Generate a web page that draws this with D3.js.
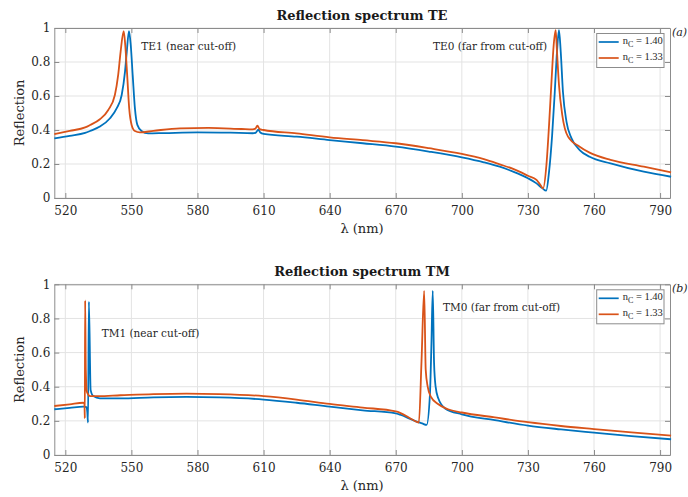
<!DOCTYPE html>
<html><head><meta charset="utf-8">
<script src="https://cdn.jsdelivr.net/npm/d3@7"></script>
<style>body{margin:0;background:#fff}svg{display:block}</style>
</head><body>
<svg id="chart" width="688" height="497"></svg>
<script>
// ---------- data ----------
const xTickValues = [520, 550, 580, 610, 640, 670, 700, 730, 760, 790];
const yTickValues = [0, 0.2, 0.4, 0.6, 0.8, 1];
const yTickLabels = ["0", "0.2", "0.4", "0.6", "0.8", "1"];
const seriesNames = ["n_C = 1.40", "n_C = 1.33"];
const seriesColors = ["#0072BD", "#D95319"];
const panelTitles = ["Reflection spectrum TE", "Reflection spectrum TM"];
const panelTags = ["(a)", "(b)"];

// TE, n_C = 1.40
const teWl140 = [515,522,529,531.2,535.7,540.3,543.3,545.6,547.1,547.9,548.9,549.7,550.6,551.6,552.7,554.6,557.6,565,580,595,605,606.5,607.6,608.5,610,625,640,655,670,685,700,710,717.2,723.3,730,733.9,736.5,738.3,739.6,741,742.2,743.2,744.1,744.9,745.9,747.5,749.8,753.5,758,767.5,782.6,795];
const teR140  = [0.351,0.366,0.383,0.394,0.42,0.469,0.527,0.606,0.743,0.86,0.982,0.90,0.72,0.527,0.43,0.394,0.38,0.382,0.386,0.384,0.381,0.385,0.402,0.385,0.377,0.361,0.341,0.322,0.302,0.273,0.239,0.21,0.184,0.155,0.116,0.086,0.058,0.043,0.155,0.37,0.625,0.86,0.988,0.86,0.625,0.449,0.351,0.282,0.243,0.204,0.155,0.125];
// TE, n_C = 1.33
const teWl133 = [515,522,529,531.2,535.7,539.5,542.5,544,545.1,546.5,547.2,548.1,549,550.1,551.6,553.8,560,572,585,600,605,606.3,607.2,608.2,610,625,640,655,670,685,700,710,717.2,723.3,730,733.9,735.5,736.9,738.4,739.6,740.7,741.7,742.6,743.2,744.1,745.6,748.2,753.5,758,767.5,782.6,795];
const teR133  = [0.376,0.395,0.415,0.429,0.463,0.518,0.606,0.724,0.86,0.982,0.90,0.72,0.527,0.43,0.394,0.386,0.395,0.41,0.412,0.406,0.404,0.408,0.425,0.405,0.4,0.38,0.357,0.34,0.322,0.293,0.259,0.228,0.198,0.171,0.131,0.106,0.08,0.057,0.194,0.43,0.684,0.9,0.988,0.86,0.665,0.488,0.361,0.302,0.267,0.224,0.184,0.151];
// TM, n_C = 1.40
const tmWl140 = [515,522,528.2,529.6,530.0,530.3,530.7,531.5,532.7,535.7,545,560,575,590,610,625,640,655,670,672,676,679.5,682,684,685.5,686.2,686.8,687.4,688.1,689.3,692.4,700,715,730,745,760,777,795];
const tmR140  = [0.268,0.276,0.283,0.28,0.25,0.19,0.898,0.38,0.345,0.332,0.332,0.338,0.34,0.337,0.325,0.306,0.283,0.262,0.244,0.236,0.215,0.195,0.185,0.176,0.35,0.65,0.962,0.537,0.4,0.332,0.273,0.238,0.204,0.172,0.15,0.131,0.11,0.092];
// TM, n_C = 1.33
const tmWl133 = [515,522,528.2,528.7,528.85,529.0,529.3,529.8,531.3,535,545,560,575,590,610,625,640,655,670,672,677.9,680.5,681.7,682.9,683.6,684.5,686,689,693.7,700,715,730,745,760,777,795];
const tmR133  = [0.287,0.297,0.306,0.30,0.215,0.905,0.5,0.37,0.345,0.345,0.35,0.357,0.36,0.357,0.345,0.325,0.299,0.278,0.255,0.247,0.205,0.19,0.55,0.962,0.5,0.4,0.34,0.3,0.268,0.249,0.22,0.192,0.17,0.152,0.132,0.113];

const panelSeries = [
  [[teWl140, teR140], [teWl133, teR133]],
  [[tmWl140, tmR140], [tmWl133, tmR133]]
];
const annotations = [
  [{t: "TE1 (near cut-off)", x: 554.5, y: 0.87}, {t: "TE0 (far from cut-off)", x: 686.9, y: 0.87}],
  [{t: "TM1 (near cut-off)", x: 536.5, y: 0.69}, {t: "TM0 (far from cut-off)", x: 691.4, y: 0.844}]
];

// ---------- layout ----------
const left = 54.3, right = 670;
const panels = [{top: 28, bottom: 198}, {top: 284.3, bottom: 455}];
const serif = "'DejaVu Serif', serif";
const serif2 = "'Liberation Serif', serif";
const svg = d3.select("#chart");
const x = d3.scaleLinear().domain([515, 794.5]).range([left, right]);

panels.forEach((p, pi) => {
  const y = d3.scaleLinear().domain([0, 1]).range([p.bottom, p.top]);
  const g = svg.append("g");

  // grid
  g.append("g").selectAll("line").data(xTickValues).join("line")
    .attr("x1", d => x(d)).attr("x2", d => x(d)).attr("y1", p.top).attr("y2", p.bottom)
    .attr("stroke", "#e3e3e3").attr("stroke-width", 1);
  g.append("g").selectAll("line").data(yTickValues).join("line")
    .attr("x1", left).attr("x2", right).attr("y1", d => y(d)).attr("y2", d => y(d))
    .attr("stroke", "#e3e3e3").attr("stroke-width", 1);

  // axes
  const xAxisB = d3.axisBottom(x).tickValues(xTickValues).tickSizeInner(-5).tickSizeOuter(0).tickPadding(8);
  const xAxisT = d3.axisTop(x).tickValues(xTickValues).tickSizeInner(-5).tickSizeOuter(0).tickFormat("");
  const yAxisL = d3.axisLeft(y).tickValues(yTickValues).tickSizeInner(-5).tickSizeOuter(0).tickPadding(4)
    .tickFormat((d, i) => yTickLabels[i]);
  const yAxisR = d3.axisRight(y).tickValues(yTickValues).tickSizeInner(-5).tickSizeOuter(0).tickFormat("");
  const axes = [
    g.append("g").attr("transform", `translate(0,${p.bottom})`).call(xAxisB),
    g.append("g").attr("transform", `translate(0,${p.top})`).call(xAxisT),
    g.append("g").attr("transform", `translate(${left},0)`).call(yAxisL),
    g.append("g").attr("transform", `translate(${right},0)`).call(yAxisR)
  ];
  axes.forEach(a => {
    a.select(".domain").attr("stroke", "#8c8c8c");
    a.selectAll(".tick line").attr("stroke", "#8c8c8c");
    a.selectAll(".tick text").attr("fill", "#262626").attr("font-family", serif).attr("font-size", 12);
  });

  // lines
  const line = d3.line().x(d => x(d[0])).y(d => y(d[1])).curve(d3.curveMonotoneX);
  panelSeries[pi].forEach((s, si) => {
    const pts = s[0].map((w, k) => [w, s[1][k]]);
    g.append("path").datum(pts).attr("d", line)
      .attr("fill", "none").attr("stroke", seriesColors[si]).attr("stroke-width", 1.8)
      .attr("stroke-linejoin", "round");
  });

  // annotations
  annotations[pi].forEach(a => {
    g.append("text").attr("x", x(a.x)).attr("y", y(a.y)).text(a.t)
      .attr("font-family", serif).attr("font-size", 10.5).attr("fill", "#262626");
  });

  // title
  g.append("text").attr("x", 362).attr("y", p.top - 8).attr("text-anchor", "middle")
    .attr("font-family", serif).attr("font-weight", "bold").attr("font-size", 13).attr("fill", "#1a1a1a")
    .text(panelTitles[pi]);
  // x label
  g.append("text").attr("x", 362).attr("y", p.bottom + 35).attr("text-anchor", "middle")
    .attr("font-family", serif).attr("font-size", 13).attr("fill", "#262626").text("λ (nm)");
  // y label
  g.append("text").attr("transform", `translate(24,${(p.top + p.bottom) / 2}) rotate(-90)`)
    .attr("text-anchor", "middle").attr("font-family", serif).attr("font-size", 13).attr("fill", "#262626")
    .text("Reflection");
  // tag
  g.append("text").attr("x", 672).attr("y", p.top + 8).attr("font-family", serif).attr("font-style", "italic")
    .attr("font-size", 11).attr("fill", "#262626").text(panelTags[pi]);

  // legend
  const lx = 596.7, ly = p.top + 5.5, lw = 67.3, lh = 34;
  const lg = g.append("g");
  lg.append("rect").attr("x", lx).attr("y", ly).attr("width", lw).attr("height", lh)
    .attr("fill", "#fff").attr("stroke", "#8c8c8c").attr("stroke-width", 1);
  seriesNames.forEach((n, si) => {
    const yy = ly + 8.5 + si * 16;
    lg.append("line").attr("x1", lx + 2).attr("x2", lx + 22).attr("y1", yy).attr("y2", yy)
      .attr("stroke", seriesColors[si]).attr("stroke-width", 1.7);
    const t = lg.append("text").attr("x", lx + 26).attr("y", yy + 2)
      .attr("font-family", serif2).attr("font-size", 10.5).attr("fill", "#262626");
    const parts = n.split("_");
    const sub = parts[1].split(" ");
    t.append("tspan").text(parts[0]);
    t.append("tspan").attr("dy", 3).attr("font-size", 8).text(sub[0]);
    t.append("tspan").attr("dy", -3).text(" " + sub.slice(1).join(" "));
  });
});
</script>
</body></html>
